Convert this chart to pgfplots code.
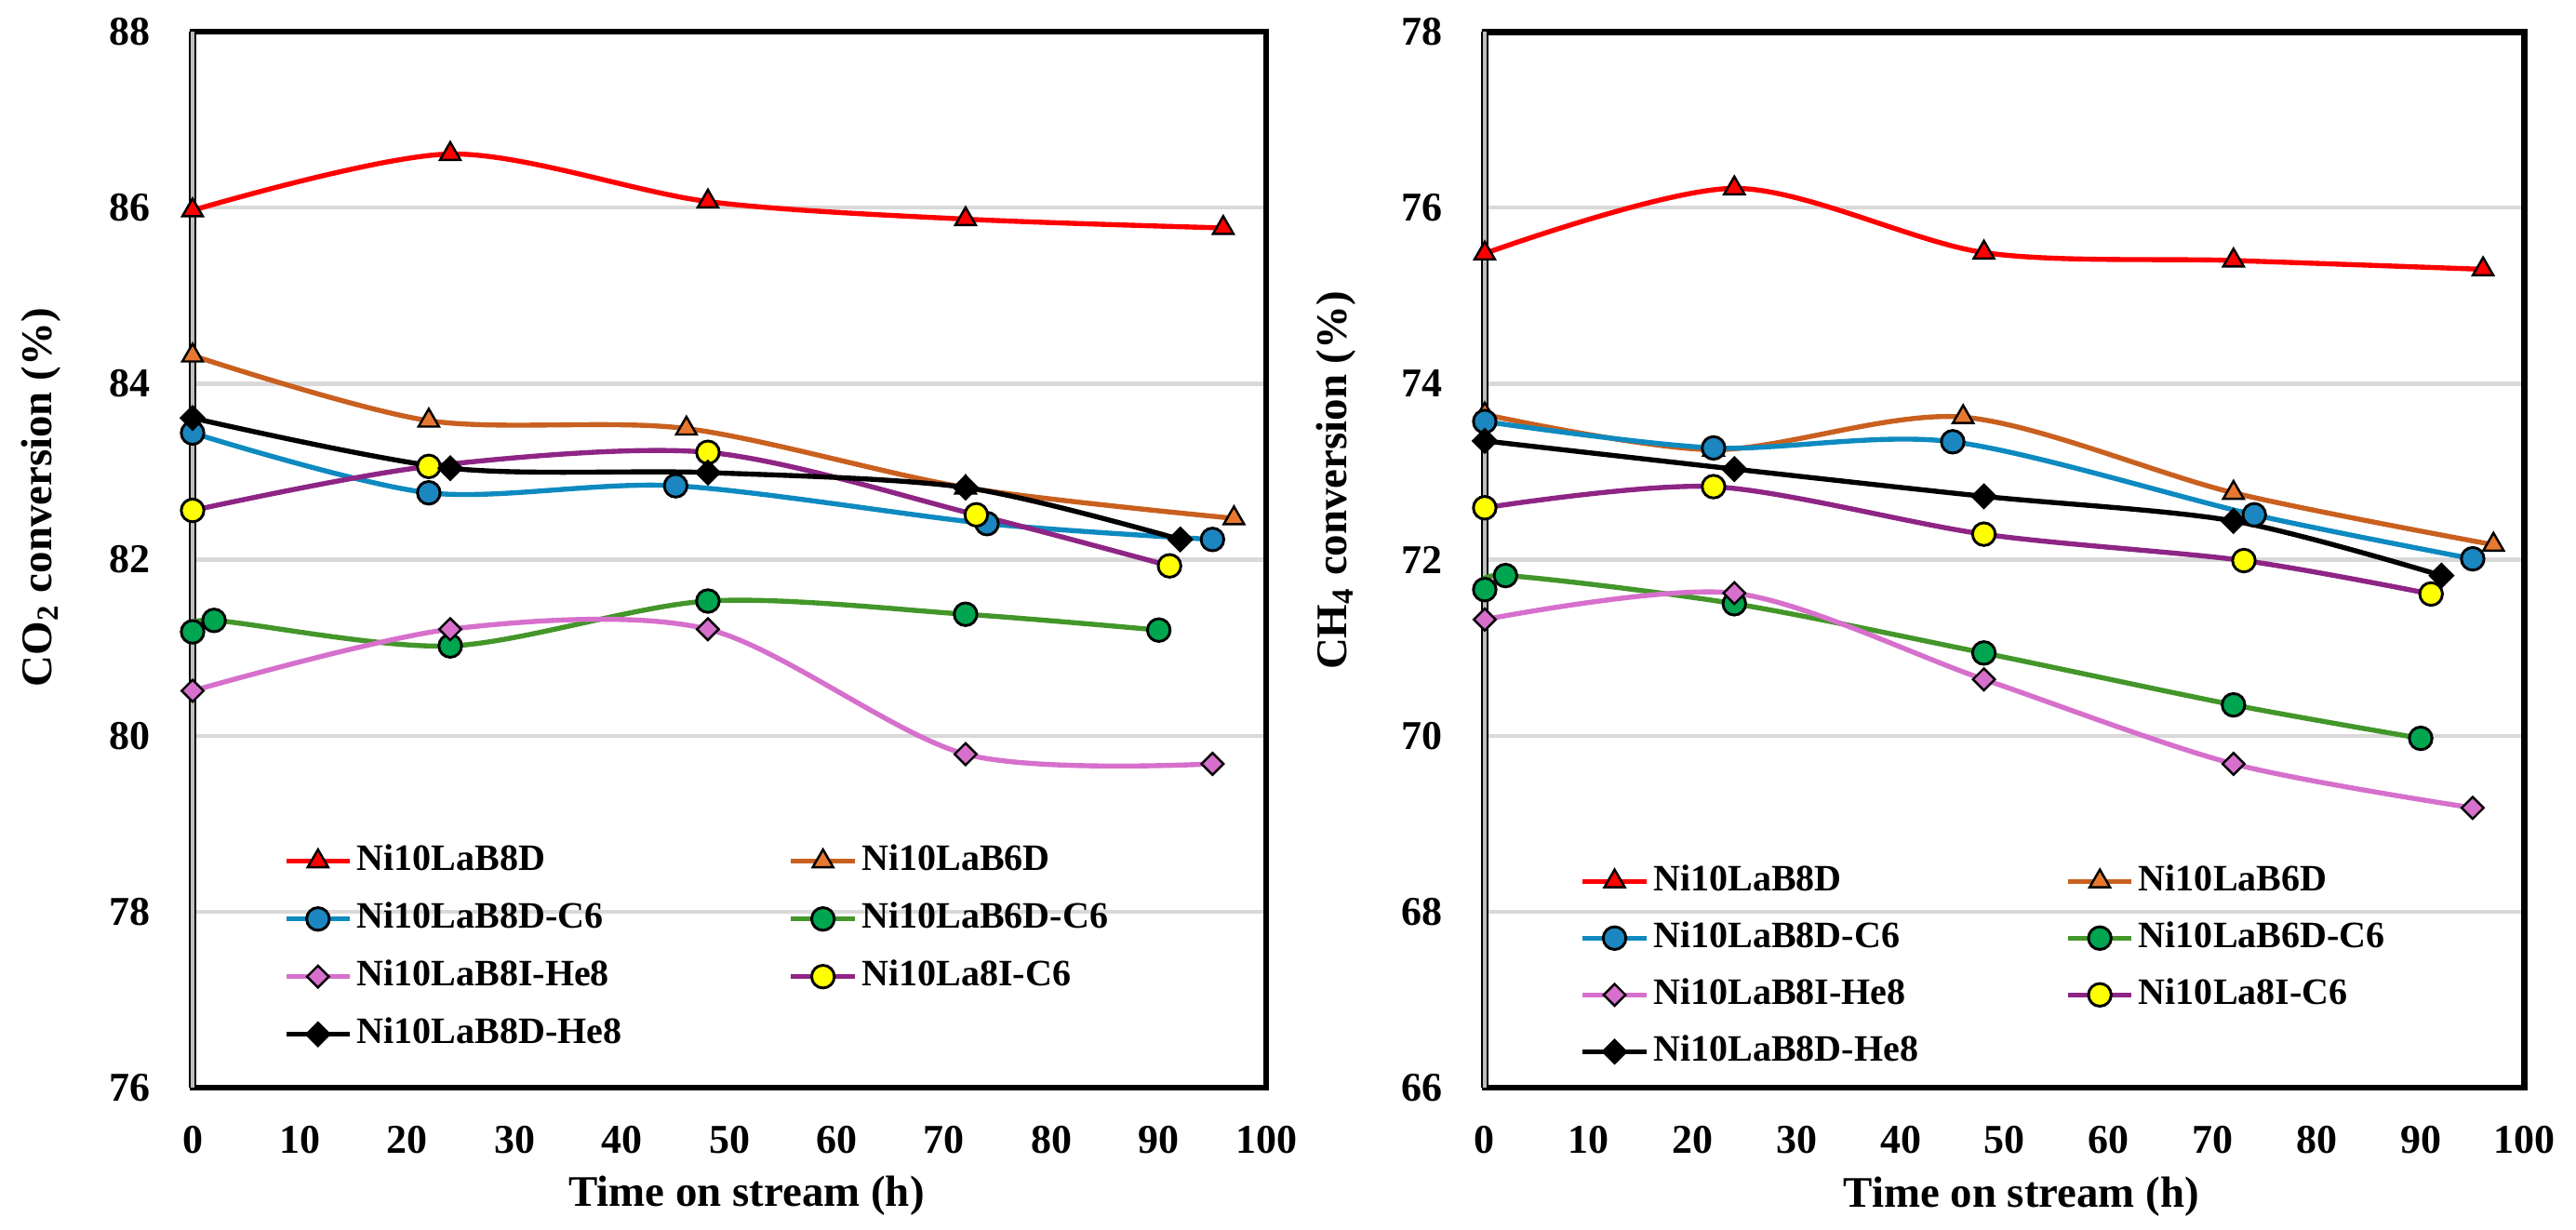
\documentclass[border=0pt]{standalone}
\usepackage{fontspec}
\setmainfont{Liberation Serif}
\usepackage{pgfplots}
\pgfplotsset{compat=1.18}
\definecolor{cred}{HTML}{FF0000}
\definecolor{corange}{HTML}{C9601F}
\definecolor{corangefill}{HTML}{E8782F}
\definecolor{cblue}{HTML}{0E8AC0}
\definecolor{cbluefill}{HTML}{1B86C0}
\definecolor{cgreen}{HTML}{43962A}
\definecolor{cgreenfill}{HTML}{00A550}
\definecolor{cpink}{HTML}{D670CC}
\definecolor{cpurple}{HTML}{8E2585}
\definecolor{cyellow}{HTML}{FFFF00}
\definecolor{cgrid}{HTML}{D9D9D9}
\definecolor{caxis}{HTML}{BFBFBF}
\newcommand{\lblfont}{\fontsize{9.6}{11}\selectfont\bfseries}
\pgfplotsset{
  myaxis/.style={
    scale only axis,
    clip=false,
    xmin=0, xmax=100, xtick={0,10,...,100},
    ymajorgrids, grid style={cgrid, line width=0.9pt},
    axis line style={draw=none},
    major tick length=0pt,
    tick style={draw=none},
    /pgf/number format/assume math mode=true,
    tick label style={font=\fontsize{9}{10}\selectfont\bfseries},
    xticklabel style={anchor=north, yshift=-5pt},
    yticklabel style={anchor=east, xshift=-5.7pt},
    legend columns=2,
    legend cell align=left,
    legend image code/.code={\draw[mark repeat=2,mark phase=2] plot coordinates {(0pt,0pt) (7pt,0pt) (14pt,0pt)};},
    every axis plot/.append style={smooth, line width=1.1pt},
  },
  s1/.style={cred, mark=triangle*, mark options={solid, draw=black, fill=cred, line width=0.5pt, mark size=2.6pt}},
  s2/.style={corange, mark=triangle*, mark options={solid, draw=black, fill=corangefill, line width=0.5pt, mark size=2.6pt}},
  s3/.style={cblue, mark=*, mark options={solid, draw=black, fill=cbluefill, line width=0.6pt, mark size=2.5pt}},
  s4/.style={cgreen, mark=*, mark options={solid, draw=black, fill=cgreenfill, line width=0.6pt, mark size=2.5pt}},
  s5/.style={cpink, mark=square*, mark options={solid, rotate=45, draw=black, fill=cpink, line width=0.5pt, mark size=1.7pt}},
  s6/.style={cpurple, mark=*, mark options={solid, draw=black, fill=cyellow, line width=0.6pt, mark size=2.5pt}},
  s7/.style={black, mark=square*, mark options={solid, rotate=45, draw=black, fill=black, line width=0.5pt, mark size=1.8pt}},
}
\newcommand{\myframe}{%
  \draw[line width=1.4pt, line cap=rect] (rel axis cs:0,1) -- (rel axis cs:1,1) -- (rel axis cs:1,0) -- (rel axis cs:0,0);
  \draw[line width=1.45pt, black] (rel axis cs:0,0) -- (rel axis cs:0,1);
  \draw[line width=0.8pt, caxis] (rel axis cs:0,0) -- (rel axis cs:0,1);
}
\begin{document}
\begin{tikzpicture}
\path[use as bounding box] (0,0) rectangle (567pt,270.5pt);
\begin{axis}[myaxis,
  at={(42.39pt,31.12pt)}, anchor=south west,
  width=236.3pt, height=232.4pt,
  ymin=76, ymax=88, ytick={76,78,...,88},
  xlabel={Time on stream (h)},
  ylabel={CO\textsubscript{2} conversion (\%)},
  every axis x label/.style={at={(axis description cs:0.516,-0.102)}, anchor=center, font=\lblfont},
  every axis y label/.style={at={(axis description cs:-0.141,0.559)}, rotate=90, anchor=center, font=\lblfont},
  legend style={at={(0.084,0.235)}, anchor=north west, draw=none, fill=none, inner sep=0pt,
    font=\fontsize{8.2}{9}\selectfont\bfseries, nodes={inner sep=1pt}, row sep=3.5pt,
    /tikz/every even column/.append style={column sep=35.75pt}},
]
\myframe
\addplot[s1] coordinates {(0,85.97) (24,86.61) (48,86.07) (72,85.87) (96,85.77)};
\addlegendentry{Ni10LaB8D}
\addplot[s2] coordinates {(0,84.32) (22,83.58) (46,83.49) (72,82.82) (97,82.47)};
\addlegendentry{Ni10LaB6D}
\addplot[s3] coordinates {(0,83.44) (22,82.76) (45,82.84) (74,82.41) (95,82.23)};
\addlegendentry{Ni10LaB8D-C6}
\addplot[s4] coordinates {(0,81.18) (2,81.31) (24,81.02) (48,81.53) (72,81.38) (90,81.20)};
\addlegendentry{Ni10LaB6D-C6}
\addplot[s5] coordinates {(0,80.51) (24,81.21) (48,81.21) (72,79.79) (95,79.68)};
\addlegendentry{Ni10LaB8I-He8}
\addplot[s6] coordinates {(0,82.56) (22,83.06) (48,83.22) (73,82.51) (91,81.93)};
\addlegendentry{Ni10La8I-C6}
\addplot[s7] coordinates {(0,83.61) (24,83.04) (48,82.99) (72,82.82) (92,82.23)};
\addlegendentry{Ni10LaB8D-He8}
\end{axis}
\begin{axis}[myaxis,
  at={(326.8pt,31.12pt)}, anchor=south west,
  width=228.9pt, height=232.4pt,
  ymin=66, ymax=78, ytick={66,68,...,78},
  xlabel={Time on stream (h)},
  ylabel={CH\textsubscript{4} conversion (\%)},
  every axis x label/.style={at={(axis description cs:0.516,-0.103)}, anchor=center, font=\lblfont},
  every axis y label/.style={at={(axis description cs:-0.143,0.575)}, rotate=90, anchor=center, font=\lblfont},
  legend style={at={(0.091,0.216)}, anchor=north west, draw=none, fill=none, inner sep=0pt,
    font=\fontsize{8.2}{9}\selectfont\bfseries, nodes={inner sep=1pt}, row sep=3.3pt,
    /tikz/every even column/.append style={column sep=31.4pt}},
]
\myframe
\addplot[s1] coordinates {(0,75.48) (24,76.22) (48,75.49) (72,75.40) (96,75.30)};
\addlegendentry{Ni10LaB8D}
\addplot[s2] coordinates {(0,73.65) (22,73.25) (46,73.62) (72,72.76) (97,72.17)};
\addlegendentry{Ni10LaB6D}
\addplot[s3] coordinates {(0,73.57) (22,73.27) (45,73.34) (74,72.51) (95,72.01)};
\addlegendentry{Ni10LaB8D-C6}
\addplot[s4] coordinates {(0,71.66) (2,71.82) (24,71.50) (48,70.94) (72,70.35) (90,69.97)};
\addlegendentry{Ni10LaB6D-C6}
\addplot[s5] coordinates {(0,71.32) (24,71.62) (48,70.64) (72,69.68) (95,69.18)};
\addlegendentry{Ni10LaB8I-He8}
\addplot[s6] coordinates {(0,72.59) (22,72.83) (48,72.29) (73,71.99) (91,71.61)};
\addlegendentry{Ni10La8I-C6}
\addplot[s7] coordinates {(0,73.35) (24,73.03) (48,72.72) (72,72.44) (92,71.82)};
\addlegendentry{Ni10LaB8D-He8}
\end{axis}
\end{tikzpicture}
\end{document}
